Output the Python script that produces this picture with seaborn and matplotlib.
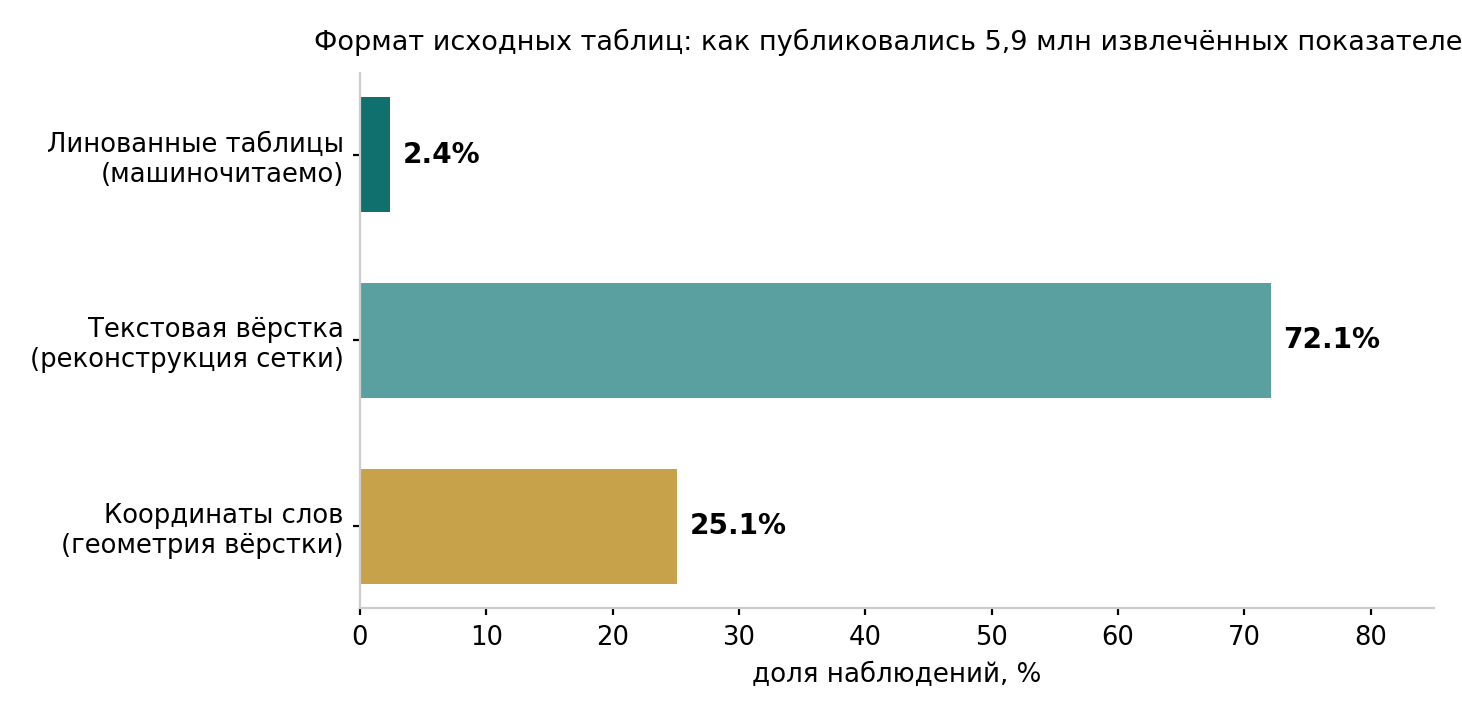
import matplotlib
matplotlib.use('Agg')
import matplotlib.pyplot as plt
import seaborn as sns
import pandas as pd

# Data
categories = ['Линованные таблицы\n(машиночитаемо)',
              'Текстовая вёрстка\n(реконструкция сетки)',
              'Координаты слов\n(геометрия вёрстки)']
shares = [2.4, 72.1, 25.1]
colors = ['#0f706e', '#5ba0a1', '#c7a24a']

df = pd.DataFrame({'category': categories, 'share': shares})

sns.set_theme(style='white')
plt.rcParams['font.family'] = ['DejaVu Sans']
plt.rcParams['text.color'] = 'black'
plt.rcParams['axes.labelcolor'] = 'black'
plt.rcParams['xtick.color'] = 'black'
plt.rcParams['ytick.color'] = 'black'

fig = plt.figure(figsize=(7.31, 3.57), dpi=200)
ax = fig.add_axes([0.2462, 0.1485, 0.9808 - 0.2462, 0.8978 - 0.1485])

sns.barplot(data=df, y='category', x='share', hue='category', palette=colors,
            width=0.62, legend=False, saturation=1, linewidth=0, ax=ax)

for container in ax.containers:
    ax.bar_label(container, fmt='%.1f%%', padding=4.5, fontsize=10.1,
                 fontweight='bold', color='black')

ax.set_xlim(0, 85)
ax.set_ylim(2.44, -0.44)
ax.set_xticks(range(0, 81, 10))
ax.set_xlabel('доля наблюдений, %', fontsize=9.4, labelpad=4)
ax.set_ylabel('')
ax.set_title('Формат исходных таблиц: как публиковались 5,9 млн извлечённых показателей',
             fontsize=9.75, pad=8.3, color='black')
ax.tick_params(axis='both', labelsize=9.3, length=2.5, width=0.8, colors='black',
               bottom=True, left=True)
ax.tick_params(axis='x', pad=3.5)
ax.tick_params(axis='y', pad=3.3)
sns.despine(ax=ax)
for side in ['left', 'bottom']:
    ax.spines[side].set_color('#cccccc')
    ax.spines[side].set_linewidth(0.8)

fig.savefig('out.png', dpi=200)
plt.close()
